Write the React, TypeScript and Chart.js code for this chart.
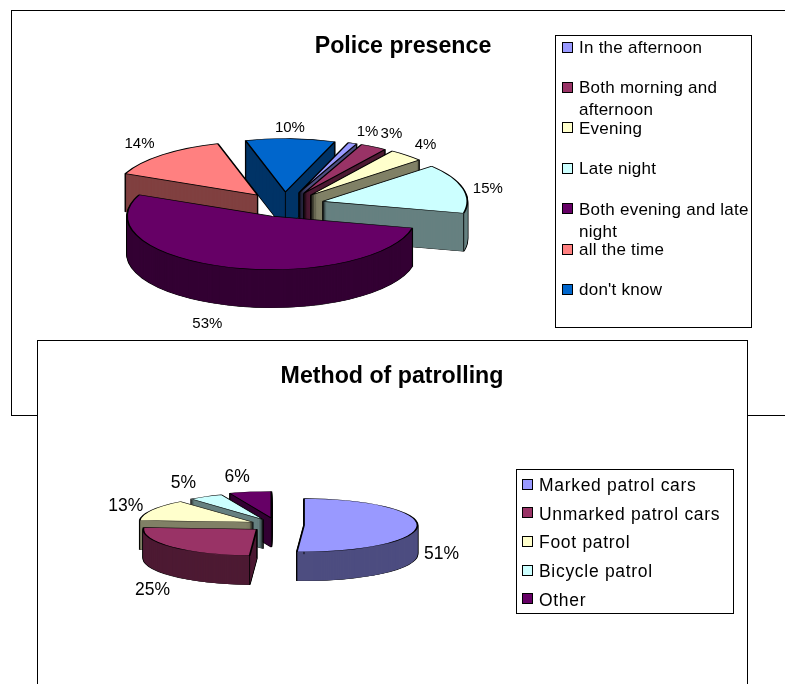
import React, { useEffect, useRef } from "react";
import { Chart, registerables } from "chart.js";

Chart.register(...registerables);

const FONT = "'Liberation Sans', Arial, sans-serif";

// Police presence
const policeLabels = ["In the afternoon", "Both morning and afternoon", "Evening", "Late night", "Both evening and late night", "all the time", "don't know"];
const policeValues = [1, 3, 4, 15, 53, 14, 10];
const policeColors = ["#9999FF", "#993366", "#FFFFCC", "#CCFFFF", "#660066", "#FF8080", "#0066CC"];
const policeSides = ["#4D4D80", "#4D1A33", "#808066", "#668080", "#330033", "#804040", "#003366"];
const policeExplode = [40, 40, 40, 40, 40, 40, 40];
const policeNudge = [[15, -11], [18, -13], [19, -10], [25, 1], [-19, 57], [-23, -11], [-0.5, -11]];

// Method of patrolling
const patrolLabels = ["Marked patrol cars", "Unmarked patrol cars", "Foot patrol", "Bicycle patrol", "Other"];
const patrolValues = [51, 25, 13, 5, 6];
const patrolColors = ["#9999FF", "#993366", "#FFFFCC", "#CCFFFF", "#660066"];
const patrolSides = ["#4D4D80", "#4D1A33", "#808066", "#668080", "#330033"];
const patrolExplode = [27, 27, 27, 27, 30];
const patrolNudge = [[24, 28], [-19, 43], [-26, -4], [-22, -13], [-13, -15]];

type Pie3D = { squash: number; explodeSquash: number; shiftX: number; depth: number; explode: number[]; sides: string[]; nudge: number[][]; labelSize: number };

const pie3dPlugin = {
  id: "pie3d",
  beforeDatasetsDraw(chart: any, _a: any, opts: Pie3D) {
    const ctx = chart.ctx;
    const arcs: any[] = chart.getDatasetMeta(0).data;
    const { squash: k, explodeSquash: ky, shiftX, depth, explode, sides } = opts;
    const order = arcs
      .map((a, i) => ({ a, i, mid: (a.startAngle + a.endAngle) / 2 }))
      .sort((p, q) => Math.sin(p.mid) - Math.sin(q.mid));
    for (const { a, i, mid } of order) {
      const cx = a.x + shiftX + Math.cos(mid) * explode[i];
      const cy = a.y + Math.sin(mid) * explode[i] * ky;
      const base = a.options;
      const paint = (fill: string, dy: number, bw: number) => {
        ctx.save();
        ctx.translate(cx, cy + dy);
        ctx.scale(1, k);
        ctx.translate(-a.x, -a.y);
        a.options = { ...base, backgroundColor: fill, borderColor: "#000000", borderWidth: bw, borderAlign: "center" };
        a.draw(ctx);
        ctx.restore();
      };
      for (let d = depth; d >= 1; d--) paint("#000000", d, 1.8);
      for (let d = depth; d >= 1; d--) paint(sides[i], d, 0);
      ctx.save();
      ctx.strokeStyle = "#000000";
      ctx.lineWidth = 0.9;
      const edge = (ang: number, r: number) => {
        const x = cx + Math.cos(ang) * r;
        const y = cy + k * Math.sin(ang) * r;
        ctx.beginPath();
        ctx.moveTo(x, y);
        ctx.lineTo(x, y + depth);
        ctx.stroke();
      };
      if (Math.sin(a.startAngle) > 0 || Math.cos(a.startAngle) < 0) edge(a.startAngle, a.outerRadius);
      if (Math.sin(a.endAngle) > 0 || Math.cos(a.endAngle) > 0) edge(a.endAngle, a.outerRadius);
      edge(mid, 0);
      ctx.restore();
      paint(base.backgroundColor, 0, 1.8);
      a.options = base;
    }
    return false;
  },
  afterDraw(chart: any, _a: any, opts: Pie3D) {
    const ctx = chart.ctx;
    const arcs: any[] = chart.getDatasetMeta(0).data;
    const values: number[] = chart.data.datasets[0].data;
    ctx.save();
    ctx.font = `${opts.labelSize}px ${FONT}`;
    ctx.fillStyle = "#000000";
    ctx.textAlign = "center";
    ctx.textBaseline = "middle";
    arcs.forEach((a, i) => {
      const mid = (a.startAngle + a.endAngle) / 2;
      const x = a.x + opts.shiftX + Math.cos(mid) * (a.outerRadius + opts.explode[i]) + opts.nudge[i][0];
      const y = a.y + Math.sin(mid) * (a.outerRadius * opts.squash + opts.explode[i] * opts.explodeSquash) + opts.nudge[i][1];
      ctx.fillText(`${values[i]}%`, x, y);
    });
    ctx.restore();
  },
};

function makePie(
  canvas: HTMLCanvasElement,
  title: string,
  labels: string[],
  values: number[],
  colors: string[],
  rotation: number,
  padding: any,
  titlePad: any,
  titleSize: number,
  pie3d: Pie3D
) {
  return new Chart(canvas, {
    type: "pie",
    data: { labels, datasets: [{ data: values, backgroundColor: colors, borderColor: "#000000", borderWidth: 1 }] },
    options: {
      animation: false,
      responsive: false,
      rotation,
      layout: { padding },
      plugins: {
        legend: { display: false },
        tooltip: { enabled: false },
        title: { display: true, text: title, color: "#000000", padding: titlePad, font: { family: FONT, size: titleSize, weight: "bold", lineHeight: 1.2 } },
        pie3d,
      } as any,
    },
    plugins: [pie3dPlugin as any],
  });
}

function Legend({ labels, colors, box, firstY, step, textX, swatchX, fontSize, lineHeight, swatch, spacing }: any) {
  return (
    <>
      <div style={{ position: "absolute", left: box[0], top: box[1], width: box[2] - box[0], height: box[3] - box[1], border: "1px solid #000", background: "#fff", boxSizing: "border-box" }} />
      {labels.map((t: string, i: number) => {
        const y = firstY + i * step;
        return (
          <React.Fragment key={t}>
            <div style={{ position: "absolute", left: swatchX, top: y - swatch / 2, width: swatch, height: swatch, background: colors[i], border: "1px solid #000", boxSizing: "border-box" }} />
            <div style={{ position: "absolute", left: textX, top: y - lineHeight / 2 + 1, width: box[2] - textX + 2, font: `${fontSize}px/${lineHeight}px ${FONT}`, letterSpacing: spacing, color: "#000" }}>{t}</div>
          </React.Fragment>
        );
      })}
    </>
  );
}

export default function App() {
  const ref1 = useRef<HTMLCanvasElement>(null);
  const ref2 = useRef<HTMLCanvasElement>(null);
  useEffect(() => {
    const c1 = makePie(ref1.current!, "Police presence", policeLabels, policeValues, policeColors, 20,
      { left: 0, right: 0, top: 0, bottom: 65.6 }, { top: 23, bottom: -1.44 }, 23.2,
      { squash: 0.37, explodeSquash: 0.31, shiftX: -119, depth: 38, explode: policeExplode, sides: policeSides, nudge: policeNudge, labelSize: 15 });
    const c2 = makePie(ref2.current!, "Method of patrolling", patrolLabels, patrolValues, patrolColors, 0,
      { left: 0, right: 0, top: 0, bottom: 45 }, { top: 22, bottom: 20.16 }, 23.2,
      { squash: 0.235, explodeSquash: 0.235, shiftX: -115, depth: 29, explode: patrolExplode, sides: patrolSides, nudge: patrolNudge, labelSize: 17.5 });
    return () => { c1.destroy(); c2.destroy(); };
  }, []);
  return (
    <div style={{ position: "absolute", left: 0, top: 0, width: 785, height: 684, overflow: "hidden", background: "#fff" }}>
      <div style={{ position: "absolute", left: 11, top: 10, width: 800, height: 406, border: "1px solid #000", boxSizing: "border-box" }} />
      <canvas ref={ref1} width={764} height={405} style={{ position: "absolute", left: 21, top: 10 }} />
      <Legend labels={policeLabels} colors={policeColors} box={[555, 35, 752, 328]} firstY={47} step={40.4} textX={579} swatchX={562} fontSize={17} lineHeight={22} swatch={11} spacing="0.25px" />
      <div style={{ position: "absolute", left: 37, top: 340, width: 711, height: 400, border: "1px solid #000", background: "#fff", boxSizing: "border-box" }} />
      <canvas ref={ref2} width={708} height={343} style={{ position: "absolute", left: 38, top: 341 }} />
      <Legend labels={patrolLabels} colors={patrolColors} box={[516, 469, 734, 614]} firstY={484} step={28.7} textX={539} swatchX={522} fontSize={17.5} lineHeight={22} swatch={11} spacing="0.7px" />
    </div>
  );
}
